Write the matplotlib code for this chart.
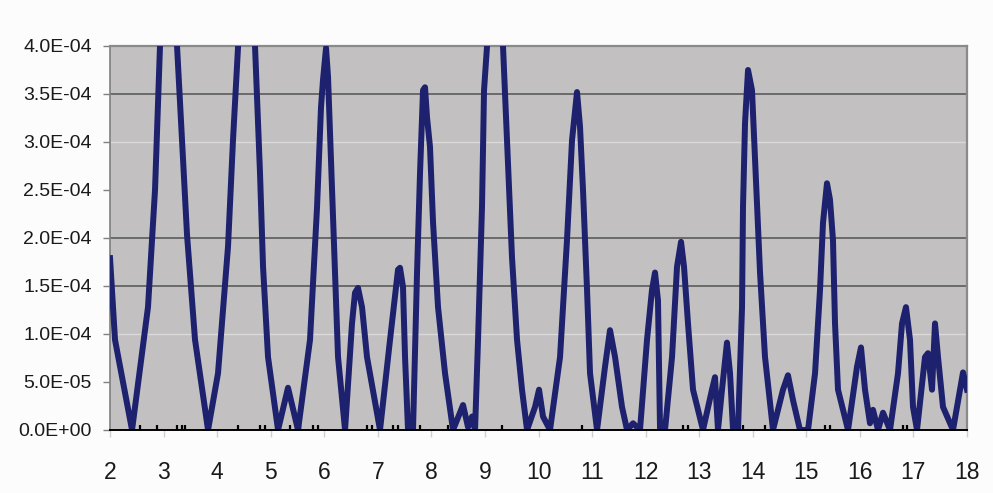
import matplotlib
matplotlib.use("Agg")
import matplotlib.pyplot as plt
from matplotlib.ticker import FixedLocator, FuncFormatter

# Curve (y in units of 1e-4)
x_vals = [
    2.000, 2.093, 2.411, 2.709, 2.840, 2.933, 3.083, 3.251, 3.438, 3.587,
    3.830, 4.016, 4.203, 4.296, 4.390, 4.539, 4.707, 4.800, 4.857, 4.950,
    5.137, 5.323, 5.510, 5.734, 5.865, 5.939, 5.977, 6.033, 6.070, 6.145,
    6.201, 6.257, 6.388, 6.518, 6.574, 6.630, 6.705, 6.798, 7.041, 7.228,
    7.377, 7.414, 7.470, 7.508, 7.564, 7.657, 7.732, 7.788, 7.844, 7.881,
    7.918, 7.974, 8.031, 8.124, 8.255, 8.404, 8.591, 8.684, 8.759, 8.815,
    8.871, 8.945, 8.983, 9.039, 9.188, 9.337, 9.412, 9.505, 9.599, 9.692,
    9.786, 9.935, 10.010, 10.084, 10.215, 10.402, 10.532, 10.626, 10.719, 10.775,
    10.831, 10.906, 10.962, 11.093, 11.242, 11.335, 11.429, 11.559, 11.653, 11.765,
    11.895, 12.026, 12.119, 12.175, 12.231, 12.269, 12.362, 12.493, 12.586, 12.661,
    12.717, 12.791, 12.885, 13.071, 13.239, 13.295, 13.351, 13.426, 13.519, 13.576,
    13.632, 13.725, 13.800, 13.818, 13.856, 13.912, 13.986, 14.042, 14.136, 14.229,
    14.378, 14.565, 14.658, 14.752, 14.882, 15.032, 15.163, 15.256, 15.312, 15.386,
    15.442, 15.498, 15.536, 15.592, 15.779, 15.947, 16.021, 16.096, 16.189, 16.245,
    16.339, 16.432, 16.563, 16.712, 16.787, 16.861, 16.936, 16.992, 17.067, 17.216,
    17.272, 17.347, 17.403, 17.459, 17.552, 17.739, 17.870, 17.926, 18.000,
]
y_vals = [
    1.79, 0.94, 0.00, 1.28, 2.50, 4.00, 5.50, 4.00, 2.03, 0.94,
    0.00, 0.59, 1.91, 3.02, 4.00, 5.50, 4.00, 2.68, 1.70, 0.76,
    0.00, 0.44, 0.00, 0.94, 2.32, 3.36, 3.65, 3.98, 3.68, 2.50,
    1.64, 0.76, 0.00, 1.11, 1.43, 1.48, 1.28, 0.76, 0.00, 0.94,
    1.67, 1.69, 1.49, 0.76, 0.00, 0.00, 1.64, 2.68, 3.54, 3.57,
    3.26, 2.95, 2.16, 1.28, 0.59, 0.00, 0.26, 0.03, 0.14, 0.00,
    0.94, 2.32, 3.54, 4.00, 5.10, 4.00, 3.02, 1.80, 0.94, 0.42,
    0.00, 0.24, 0.42, 0.14, 0.00, 0.76, 1.98, 3.02, 3.52, 3.16,
    2.50, 1.46, 0.59, 0.00, 0.66, 1.04, 0.76, 0.24, 0.00, 0.07,
    0.00, 0.94, 1.46, 1.64, 1.35, 0.00, 0.00, 0.76, 1.70, 1.96,
    1.70, 1.11, 0.42, 0.00, 0.42, 0.55, 0.00, 0.42, 0.91, 0.59,
    0.00, 0.00, 1.28, 2.32, 3.20, 3.75, 3.54, 2.84, 1.64, 0.76,
    0.00, 0.42, 0.57, 0.31, 0.00, 0.00, 0.59, 1.46, 2.16, 2.57,
    2.40, 1.98, 1.11, 0.42, 0.00, 0.66, 0.86, 0.42, 0.07, 0.21,
    0.00, 0.18, 0.00, 0.59, 1.11, 1.28, 0.94, 0.24, 0.00, 0.76,
    0.80, 0.42, 1.11, 0.76, 0.24, 0.00, 0.42, 0.60, 0.42,
]

# Category labels along the bottom
x_labels = ["2", "3", "4", "5", "6", "7", "8", "9", "10",
            "11", "12", "13", "14", "15", "16", "17", "18"]
x_label_pos = [2, 3, 4, 5, 6, 7, 8, 9, 10, 11, 12, 13, 14, 15, 16, 17, 18]

# small black marks standing on the x axis
axis_marks = [2.56, 2.88, 3.25, 3.34, 3.40, 4.39, 4.80, 4.89, 5.36, 5.55,
              5.79, 5.88, 6.80, 6.89, 7.28, 7.38, 7.79, 8.31, 8.39, 9.32,
              10.81, 11.84, 12.70, 12.79, 13.82, 14.23,
              15.35, 15.44, 16.81, 16.88, 17.74]

y_ticks = [0, 0.5e-4, 1.0e-4, 1.5e-4, 2.0e-4, 2.5e-4, 3.0e-4, 3.5e-4, 4.0e-4]


def excel_sci(v, _pos):
    if v == 0:
        return "0.0E+00"
    mant, expo = f"{v:.1E}".split("E")
    return f"{mant}E{int(expo):+03d}"


plt.rcParams["font.family"] = ["Liberation Sans", "DejaVu Sans"]

fig = plt.figure(figsize=(9.93, 4.93), dpi=100, facecolor="#fcfcfc")
ax = fig.add_axes([0.1108, 0.1278, 0.8630, 0.7789])
ax.set_facecolor("#c2c0c0")

# gridlines (some look dark, some pale in the reference)
dark_grid = [3.5e-4, 2.0e-4, 1.5e-4]
pale_grid = [3.0e-4, 1.0e-4]
for g in dark_grid:
    ax.axhline(g, color="#6a6a6a", lw=1.4, zorder=1)
for g in pale_grid:
    ax.axhline(g, color="#dadada", lw=1.0, zorder=1)

ax.plot(x_vals, [v * 1e-4 for v in y_vals], color="#1d216e", lw=4.3,
        solid_joinstyle="round", zorder=3)

ax.set_xlim(2, 18)
ax.set_ylim(0, 4.0e-4)

ax.yaxis.set_major_locator(FixedLocator(y_ticks))
ax.yaxis.set_major_formatter(FuncFormatter(excel_sci))
ax.tick_params(axis="y", direction="out", length=5, width=1, color="#808080",
               labelsize=14, labelcolor="#1a1a1a", pad=8)

ax.xaxis.set_major_locator(FixedLocator(x_label_pos))
ax.set_xticklabels(x_labels)
ax.tick_params(axis="x", which="major", direction="out", length=5, width=1,
               color="#d0d0d0", labelsize=16.5, labelcolor="#1a1a1a", pad=17)
ax.xaxis.set_minor_locator(FixedLocator(axis_marks))
ax.tick_params(axis="x", which="minor", direction="in", length=3.5, width=1.6,
               color="black")

for side in ["top", "right"]:
    ax.spines[side].set_color("#8a8a8a")
    ax.spines[side].set_linewidth(1.6)
ax.spines["left"].set_color("#808080")
ax.spines["left"].set_linewidth(1.2)
ax.spines["bottom"].set_color("black")
ax.spines["bottom"].set_linewidth(1.4)
ax.spines["bottom"].set_zorder(4)

fig.savefig("out.png", dpi=100, facecolor=fig.get_facecolor())
